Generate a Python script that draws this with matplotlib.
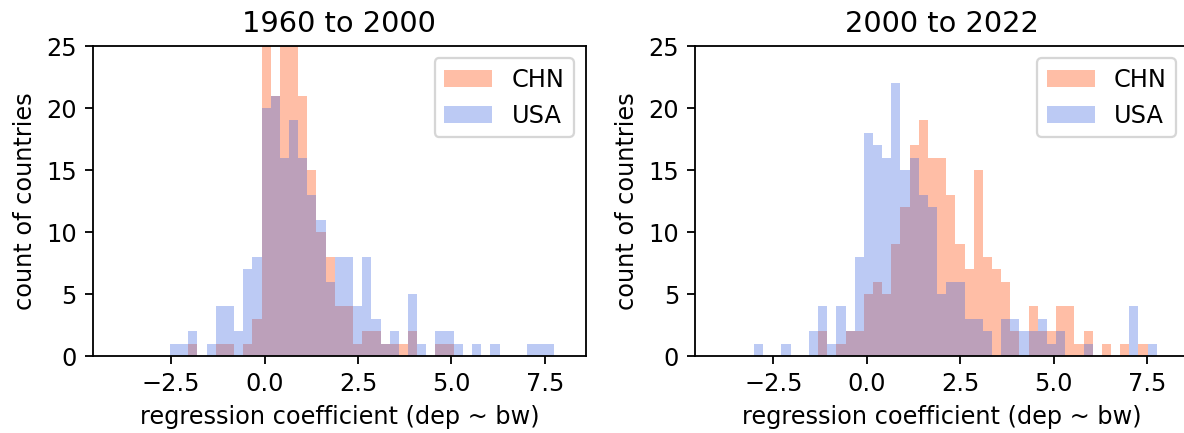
import numpy as np
import matplotlib
matplotlib.use("Agg")
import matplotlib.pyplot as plt

# Shared histogram bins (49 equal bins from -4 to 8)
bin_edges = np.linspace(-4, 8, 50)

def counts(d):
    a = np.zeros(49)
    for k, v in d.items():
        a[k] = v
    return a

# 1960 to 2000
chn_1960 = counts({8: 1, 11: 1, 12: 1, 14: 1, 15: 3, 16: 25, 17: 21, 18: 25, 19: 25,
                   20: 21, 21: 15, 22: 10, 23: 8, 24: 4, 25: 4, 26: 1, 27: 2, 28: 2,
                   29: 1, 30: 1, 31: 1, 32: 2, 35: 1, 36: 1})
usa_1960 = counts({6: 1, 7: 1, 8: 2, 10: 1, 11: 4, 12: 4, 13: 2, 14: 7, 15: 8, 16: 20,
                   17: 21, 18: 16, 19: 19, 20: 16, 21: 13, 22: 11, 23: 6, 24: 8, 25: 8,
                   26: 4, 27: 8, 28: 3, 29: 1, 30: 2, 32: 5, 33: 1, 35: 2, 36: 2, 37: 1,
                   39: 1, 41: 1, 45: 1, 46: 1, 47: 1})
# 2000 to 2022
chn_2000 = counts({11: 2, 13: 1, 14: 2, 15: 2, 16: 5, 17: 6, 18: 5, 19: 9, 20: 12,
                   21: 17, 22: 19, 23: 16, 24: 16, 25: 13, 26: 9, 27: 7, 28: 15, 29: 8,
                   30: 7, 31: 6, 32: 2, 34: 4, 35: 2, 36: 2, 37: 4, 38: 4, 39: 1, 40: 2,
                   42: 1, 44: 1, 46: 1})
usa_2000 = counts({4: 1, 7: 1, 10: 2, 11: 4, 12: 1, 13: 4, 14: 2, 15: 8, 16: 18, 17: 17,
                   18: 16, 19: 22, 20: 15, 21: 16, 22: 13, 23: 12, 24: 5, 25: 6, 26: 6,
                   27: 3, 28: 3, 29: 2, 31: 3, 32: 3, 33: 2, 34: 2, 35: 3, 36: 1, 37: 2,
                   40: 1, 45: 4, 47: 1})

titles = ["1960 to 2000", "2000 to 2022"]
series = [(chn_1960, usa_1960), (chn_2000, usa_2000)]
labels = ["CHN", "USA"]
colors = ["orangered", "royalblue"]
xticks = [-2.5, 0.0, 2.5, 5.0, 7.5]
yticks = [0, 5, 10, 15, 20, 25]

plt.rcParams["font.size"] = 10.55
plt.rcParams["axes.titlesize"] = 12.66

dpi = 164
fig = plt.figure(figsize=(1184 / dpi, 433 / dpi), dpi=dpi)
W, H = 1184, 433
ax_w = 493.3 / W
ax_h = 310 / H
ax_b = (H - 356) / H
lefts = [92.7 / W, 695 / W]

centers = 0.5 * (bin_edges[:-1] + bin_edges[1:])
for i in range(2):
    ax = fig.add_axes([lefts[i], ax_b, ax_w, ax_h])
    for data, lab, col in zip(series[i], labels, colors):
        ax.hist(centers, bins=bin_edges, weights=data, color=col, alpha=0.35, label=lab)
    ax.set_ylim(0, 25)
    ax.set_xlim(-4.6, 8.6)
    ax.set_xticks(xticks)
    ax.set_yticks(yticks)
    ax.set_title(titles[i])
    ax.set_xlabel("regression coefficient (dep ~ bw)")
    ax.set_ylabel("count of countries")
    ax.legend(loc="upper right")

fig.savefig("out.png", dpi=dpi)
